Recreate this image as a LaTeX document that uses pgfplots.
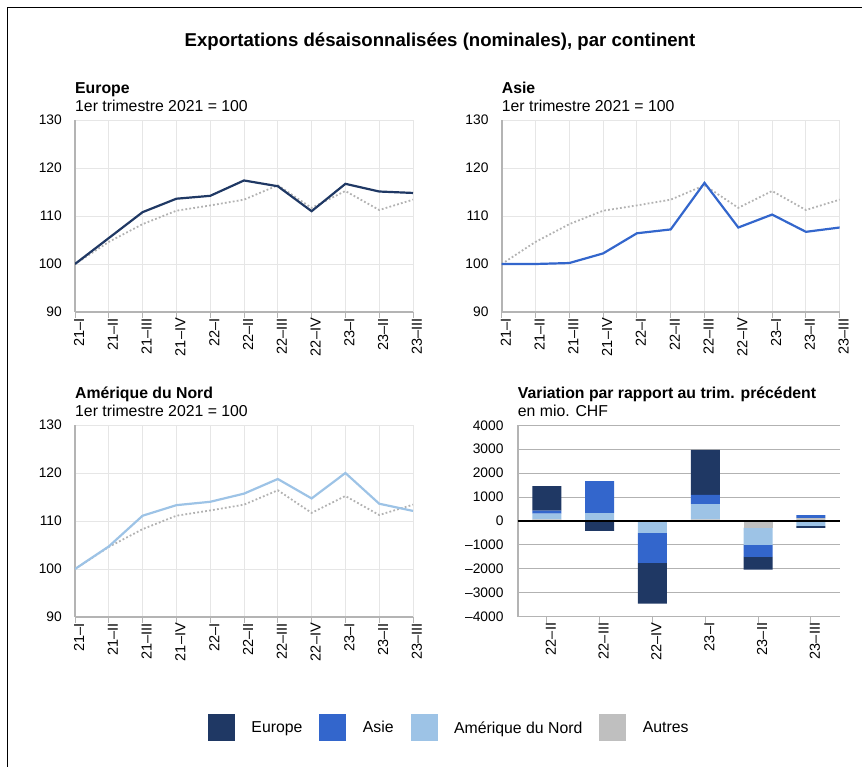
\documentclass[border=0pt]{standalone}
\usepackage{fontspec}
\setmainfont{Liberation Sans}
\usepackage{pgfplots}
\usepackage{pgfplotstable}
\pgfplotsset{compat=1.18}
\definecolor{eu}{RGB}{31,56,100}
\definecolor{as}{RGB}{51,102,204}
\definecolor{na}{RGB}{157,195,230}
\definecolor{au}{RGB}{191,191,191}
\definecolor{totc}{RGB}{178,178,178}
\definecolor{gridc}{RGB}{230,230,230}
\definecolor{axc}{RGB}{180,180,180}
\definecolor{bgrid}{RGB}{178,178,178}

\pgfplotstableread{
x eu as na tot
0 100 100 100 100
1 105.4 100.0 104.7 104.6
2 110.8 100.2 111.1 108.3
3 113.6 102.2 113.3 111.1
4 114.2 106.4 114.0 112.2
5 117.4 107.2 115.7 113.4
6 116.2 116.9 118.75 116.4
7 111.0 107.6 114.7 111.7
8 116.7 110.3 120.0 115.2
9 115.1 106.7 113.6 111.25
10 114.8 107.6 112.1 113.4
}\lines

\newcommand{\tickfont}{\fontsize{13.8}{15}\selectfont}
\newcommand{\xtickfont}{\fontsize{14.5}{16}\selectfont}
\newcommand{\labfont}{\fontsize{15.8}{18}\selectfont}

\pgfplotsset{
  common/.style={
    scale only axis, anchor=south west,
    /pgf/number format/assume math mode=true,
    /pgf/number format/1000 sep={},
    tick label style={font=\tickfont},
    axis x line*=bottom, axis y line*=left,
    axis line style={-, color=axc, line width=1.6pt},
    xtick align=outside, ytick align=inside,
    major tick length=6pt,
    xtick style={color=axc, line width=1pt},
    ytick style={draw=none},
    yticklabel style={inner sep=0pt, xshift=-13pt},
    xticklabel style={rotate=90, anchor=east, inner sep=0pt, yshift=-4pt, font=\xtickfont},
  },
  linepanel/.style={
    common,
    width=338pt, height=192pt,
    xmin=0, xmax=10, ymin=90, ymax=130, ytick={90,100,...,130},
    xtick={0,...,10},
    xticklabels={21--I,21--II,21--III,21--IV,22--I,22--II,22--III,22--IV,23--I,23--II,23--III},
    grid=major, major grid style={color=gridc, line width=0.9pt},
  },
  totline/.style={color=totc, line width=1.8pt, dash pattern=on 1.8pt off 2.2pt},
}

\begin{document}
\begin{tikzpicture}[x=1pt,y=1pt]
\path[use as bounding box] (0pt,0pt) rectangle (862pt,767pt);
\draw[line width=1pt] (7.3pt,0pt) -- (7.3pt,759.7pt) -- (862pt,759.7pt);

\node[anchor=base, font=\bfseries\fontsize{18.6}{21}\selectfont] at (440pt,720.5pt) {Exportations désaisonnalisées (nominales), par continent};

% Europe
\node[anchor=base west, inner sep=0pt, font=\bfseries\labfont] at (75pt,673pt) {Europe};
\node[anchor=base west, inner sep=0pt, font=\labfont] at (75pt,655pt) {1er trimestre 2021 = 100};
\begin{axis}[linepanel, at={(75pt,455pt)}]
\addplot[totline] table[x=x, y=tot] {\lines};
\addplot[color=eu, line width=2.2pt] table[x=x, y=eu] {\lines};
\end{axis}

% Asie
\node[anchor=base west, inner sep=0pt, font=\bfseries\labfont] at (501.7pt,673pt) {Asie};
\node[anchor=base west, inner sep=0pt, font=\labfont] at (501.7pt,655pt) {1er trimestre 2021 = 100};
\begin{axis}[linepanel, at={(501.7pt,455pt)}]
\addplot[totline] table[x=x, y=tot] {\lines};
\addplot[color=as, line width=2.2pt] table[x=x, y=as] {\lines};
\end{axis}

% Amerique du Nord
\node[anchor=base west, inner sep=0pt, font=\bfseries\labfont] at (75pt,368.5pt) {Amérique du Nord};
\node[anchor=base west, inner sep=0pt, font=\labfont] at (75pt,350.5pt) {1er trimestre 2021 = 100};
\begin{axis}[linepanel, at={(75pt,150pt)}]
\addplot[totline] table[x=x, y=tot] {\lines};
\addplot[color=na, line width=2.2pt] table[x=x, y=na] {\lines};
\end{axis}

% Variation
\node[anchor=base west, inner sep=0pt, font=\bfseries\labfont] at (517.7pt,368.5pt) {Variation par rapport au trim. précédent};
\node[anchor=base west, inner sep=0pt, font=\labfont] at (517.7pt,350.5pt) {en mio. CHF};
\begin{axis}[common, width=322.3pt, height=191.4pt, at={(517.7pt,150.3pt)},
  xmin=-0.55, xmax=5.55, ymin=-4000, ymax=4000, ytick={-4000,-3000,...,4000},
  yticklabels={--4000,--3000,--2000,--1000,0,1000,2000,3000,4000},
  yticklabel style={xshift=-1pt},
  xtick={0,...,5}, xticklabels={22--II,22--III,22--IV,23--I,23--II,23--III},
  ymajorgrids, major grid style={color=bgrid, line width=1.1pt},
  ybar stacked, bar width=29pt,
  legend columns=4, reverse legend,
  legend image code/.code={\fill[#1] (0pt,-13.5pt) rectangle (27pt,13.5pt);},
  legend style={draw=none, fill=none, inner sep=0pt, outer sep=0pt,
    at={(-0.961,-0.5815)}, anchor=west, font=\labfont,
    nodes={inner sep=0pt},
    /tikz/every odd column/.append style={column sep=16.5pt},
    /tikz/every even column/.append style={column sep=17pt}},
]
\addplot[fill=au, draw=none] coordinates {(0,70) (1,0) (2,40) (3,70) (4,0) (5,125)};
\addplot[fill=na, draw=none] coordinates {(0,234) (1,333) (2,0) (3,640) (4,0) (5,0)};
\addplot[fill=as, draw=none] coordinates {(0,126) (1,1334) (2,0) (3,379) (4,0) (5,125)};
\addplot[fill=eu, draw=none] coordinates {(0,1028) (1,0) (2,0) (3,1882) (4,0) (5,0)};
\legend{Autres, Amérique du Nord, Asie, Europe}
\end{axis}
\begin{axis}[scale only axis, anchor=south west, width=322.3pt, height=191.4pt, at={(517.7pt,150.3pt)},
  xmin=-0.55, xmax=5.55, ymin=-4000, ymax=4000, hide axis,
  ybar stacked, bar width=29pt]
\addplot[fill=au, draw=none] coordinates {(0,0) (1,0) (2,0) (3,0) (4,-278) (5,0)};
\addplot[fill=na, draw=none] coordinates {(0,0) (1,0) (2,-500) (3,0) (4,-722) (5,-208)};
\addplot[fill=as, draw=none] coordinates {(0,0) (1,0) (2,-1255) (3,0) (4,-500) (5,0)};
\addplot[fill=eu, draw=none] coordinates {(0,0) (1,-417) (2,-1700) (3,0) (4,-530) (5,-84)};
\end{axis}
\begin{axis}[scale only axis, anchor=south west, width=322.3pt, height=191.4pt, at={(517.7pt,150.3pt)},
  xmin=-0.55, xmax=5.55, ymin=-4000, ymax=4000, hide axis]
\addplot[black, line width=1.3pt] coordinates {(-0.55,0) (5.55,0)};
\end{axis}
\end{tikzpicture}
\end{document}
